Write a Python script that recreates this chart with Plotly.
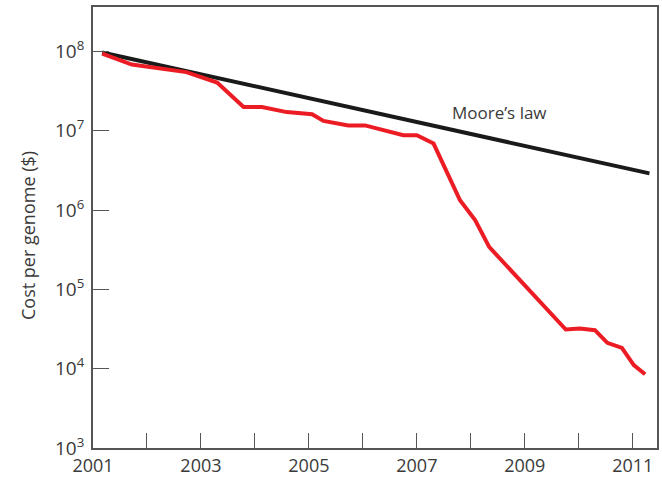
import plotly.graph_objects as go

# Sequencing cost per genome (red)
seq_year = [2001.17, 2001.72, 2002.73, 2003.30, 2003.79, 2004.13, 2004.59, 2005.06,
            2005.27, 2005.73, 2006.04, 2006.41, 2006.75, 2007.00, 2007.31, 2007.80,
            2008.08, 2008.34, 2009.76, 2010.02, 2010.30, 2010.53, 2010.80, 2011.02,
            2011.23]
seq_cost = [9.4e7, 6.85e7, 5.5e7, 4.06e7, 2.0e7, 2.0e7, 1.72e7, 1.62e7,
            1.33e7, 1.17e7, 1.17e7, 1.0e7, 8.8e6, 8.8e6, 6.9e6, 1.33e6,
            7.5e5, 3.43e5, 3.12e4, 3.21e4, 3.06e4, 2.12e4, 1.83e4, 1.11e4,
            8.5e3]

# Moore's law reference line
moore_year = [2001.17, 2011.31]
moore_cost = [9.7e7, 2.9e6]

x_tick_vals = [2001, 2003, 2005, 2007, 2009, 2011]
x_tick_text = ["2001", "2003", "2005", "2007", "2009", "2011"]
y_tick_vals = [1e3, 1e4, 1e5, 1e6, 1e7, 1e8]
y_tick_text = ["10<sup>3</sup>", "10<sup>4</sup>", "10<sup>5</sup>",
               "10<sup>6</sup>", "10<sup>7</sup>", "10<sup>8</sup>"]

FONT = "Open Sans"
TXT = "#3a3a3a"
AX = "#555555"

fig = go.Figure()
fig.add_trace(go.Scatter(x=moore_year, y=moore_cost, mode="lines",
                         line=dict(color="#1a1a1a", width=4), showlegend=False))
fig.add_trace(go.Scatter(x=seq_year, y=seq_cost, mode="lines",
                         line=dict(color="#ec1c24", width=4), showlegend=False))

fig.add_annotation(x=2008.54, y=7.235, xref="x", yref="y", text="Moore’s law",
                   showarrow=False, font=dict(family=FONT, size=17, color=TXT))

# y-axis title as rotated text
fig.add_annotation(x=-0.115, y=0.481, xref="paper", yref="paper",
                   text="Cost per genome ($)", textangle=-90, showarrow=False,
                   xanchor="center", yanchor="middle",
                   font=dict(family=FONT, size=18, color=TXT))

fig.update_layout(
    width=662, height=477,
    margin=dict(l=93, r=5, t=7, b=29),
    paper_bgcolor="white", plot_bgcolor="white",
    font=dict(family=FONT, color=TXT),
    xaxis=dict(range=[2001, 2011.45], tickvals=x_tick_vals, ticktext=x_tick_text,
               ticks="inside", ticklen=15, tickwidth=1.3, tickcolor=AX,
               minor=dict(ticks="inside", ticklen=15, tickwidth=1.3, tickcolor=AX,
                          tick0=2001, dtick=1, showgrid=False),
               showline=True, linecolor=AX, linewidth=1.8, mirror=True,
               showgrid=False, zeroline=False, automargin=False,
               tickfont=dict(family=FONT, size=18, color=TXT)),
    yaxis=dict(type="log", range=[3, 8.561], tickvals=y_tick_vals, ticktext=y_tick_text,
               ticks="inside", ticklen=16, tickwidth=1.3, tickcolor=AX,
               showline=True, linecolor=AX, linewidth=1.8, mirror=True,
               showgrid=False, zeroline=False, ticklabelstandoff=3, automargin=False,
               tickfont=dict(family=FONT, size=19, color=TXT)),
)

fig.write_html("out.html", config={"displayModeBar": False},
               post_script="document.body.style.margin='0';document.body.style.overflow='hidden';")
